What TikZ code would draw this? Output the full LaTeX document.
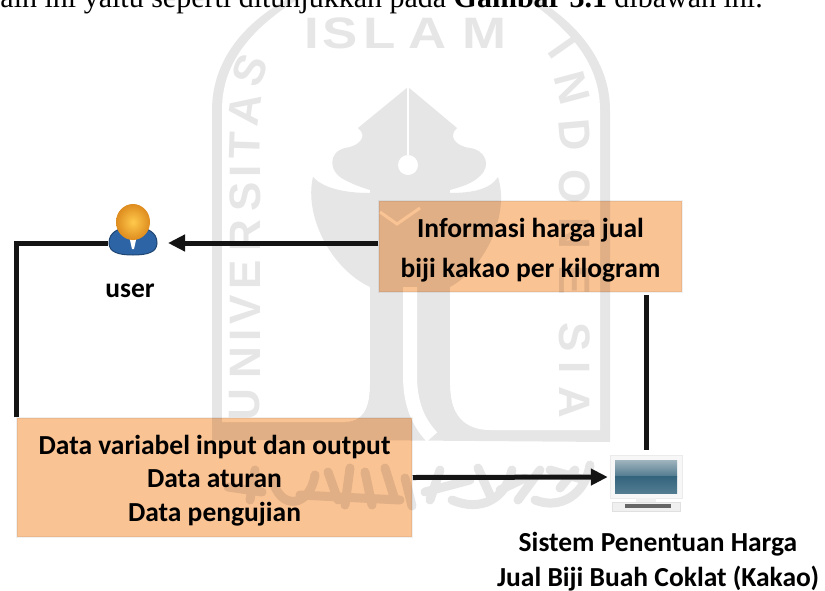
\documentclass[tikz,border=0pt]{standalone}
\usepackage{fontspec}
\setmainfont{Liberation Serif}
\newfontfamily\labelfont{Carlito}
\newfontfamily\markfont{Liberation Sans}
\usetikzlibrary{arrows.meta}
\definecolor{peach}{RGB}{250, 195, 148}
\definecolor{markgray}{RGB}{230, 230, 230}
\definecolor{suitblue}{RGB}{45, 100, 165}
\definecolor{headorange}{RGB}{222, 140, 30}
\definecolor{screendark}{RGB}{50, 100, 125}
\definecolor{screenlight}{RGB}{160, 180, 190}
\tikzset{
  infobox/.style={draw=black!6, line width=1.5pt, fill=peach, align=center, inner sep=0pt,
                  font=\labelfont\bfseries\fontsize{27.5}{33.5}\selectfont},
  caption/.style={align=center, inner sep=0pt, font=\labelfont\bfseries\fontsize{27.5}{35}\selectfont},
  flowline/.style={line width=5pt, color=black!92},
  flowarrow/.style={flowline, -{Triangle[length=17pt,width=16pt]}},
  markletter/.style={color=markgray, inner sep=0pt, font=\markfont\bfseries\fontsize{44}{44}\selectfont}
}
\begin{document}
\begin{tikzpicture}[x=1pt, y=-1pt]
            \useasboundingbox (0,0) rectangle (825,590);
            \clip (0,0) rectangle (825,590);
            % Watermark shield
            \fill[markgray] (295,-5) .. controls (245,20) and (212,60) .. (212,110) -- (212,440) -- (345,440) -- (610,442) -- (610,110) .. controls (610,60) and (575,20) .. (530,-5) -- cycle;
            \fill[white]    (305,-5) .. controls (255,25) and (222,60) .. (222,110) -- (222,422) -- (345,422) .. controls (362,422) and (370,410) .. (370,385) -- (370,280) -- (450,280) -- (450,385) .. controls (450,415) and (465,430) .. (490,430) -- (600,430) -- (600,110) .. controls (600,60) and (565,25) .. (520,-5) -- cycle;
            % Watermark letters
            \foreach \letter/\markx in {I/312, S/340, L/380, A/428, M/484}
              \node[markletter] at (\markx,33) {\scalebox{1.2}[1]{\letter}};
            \foreach \letter/\markx/\marky/\markangle in {
                U/245/405/90, N/245/363/90, I/245/335/90, V/245/310/90, E/245/275/90, R/245/236/90, S/245/197/90, I/245/171/90, T/245/146/88, A/245/110/82, S/250/70/68,
                I/562/48/-55, N/572/88/-75, D/575/135/-85, O/575/187/-90, N/575/233/-90, E/575/280/-90, S/575/337/-90, I/575/368/-90, A/575/402/-90}
              \node[markletter, rotate=\markangle] at (\markx,\marky) {\letter};
            % Watermark pen
            \fill[markgray] (408,87) -- (358,128) .. controls (368,136) and (360,146) .. (345,148) .. controls (328,152) and (328,172) .. (345,180) .. controls (360,188) and (372,190) .. (378,193) -- (440,193) .. controls (455,188) and (470,186) .. (480,176) .. controls (492,165) and (485,150) .. (470,148) .. controls (455,146) and (448,136) .. (457,128) -- cycle;
            \fill[markgray] (313,177) .. controls (304,215) and (330,268) .. (370,287) -- (370,193) .. controls (350,193) and (325,190) .. (313,177) -- cycle;
            \fill[markgray] (498,177) .. controls (510,215) and (485,268) .. (450,287) -- (450,193) .. controls (470,193) and (490,190) .. (498,177) -- cycle;
            \fill[markgray] (370,190) rectangle (450,400);
            \fill[markgray] (370,385) .. controls (370,410) and (362,422) .. (345,422) -- (345,435) -- (470,435) -- (470,430) .. controls (465,430) and (450,415) .. (450,385) -- cycle;
            \draw[white, line width=2pt] (408,87) -- (408,160);
            \fill[white] (408,165) circle (10);
            \draw[white, line width=14pt] (410,287) -- (410,375) .. controls (410,400) and (416,420) .. (432,437);
            \draw[white, line width=3pt] (380,212) -- (397,224) -- (420,208);
            % Watermark calligraphy
            \draw[markgray, line width=9pt, line cap=round] (228,487) -- (262,492) (255,470) -- (250,500) (272,478) .. controls (280,512) and (310,507) .. (315,475) (328,472) -- (338,500) (350,468) -- (345,505) (365,472) -- (372,505) (385,468) -- (395,500) (405,478) -- (412,506) (300,495) -- (400,500);
            \draw[markgray, line width=9pt, line cap=round] (425,492) -- (470,480) (440,470) -- (430,500) (452,500) .. controls (480,512) and (505,500) .. (512,470) (478,468) -- (490,495) (518,500) -- (540,470) (500,490) -- (525,478) (535,500) .. controls (560,510) and (585,495) .. (590,465) (550,470) -- (585,480) (560,488) -- (575,470);
            % Boxes
            \begin{scope}[blend mode=multiply]
            \node[infobox, minimum width=395pt, minimum height=119pt] (data) at (214.5,477.5) {\rule{0pt}{25pt}Data variabel input dan output\\Data aturan\\Data pengujian};
            \node[infobox, minimum width=303pt, minimum height=91pt, font=\labelfont\bfseries\fontsize{27.5}{40}\selectfont] (info) at (530.5,246.5) {\rule{0pt}{26pt}Informasi harga jual\\biji kakao per kilogram};
            \end{scope}
            % User
            \node[minimum width=50pt, minimum height=24pt, inner sep=0pt] (user) at (133,243) {};
            \filldraw[color=suitblue!70!black, fill=suitblue, line width=1pt] (109,243) .. controls (109,232) and (118,228) .. (133,226) .. controls (148,228) and (157,232) .. (157,243) .. controls (157,252) and (148,255) .. (133,255) .. controls (118,255) and (109,252) .. (109,243) -- cycle;
            \fill[white] (128,231) -- (138,231) -- (134,249) -- (132,249) -- cycle;
            \shade[inner color=yellow!40!orange!70!white, outer color=headorange] (133,222) ellipse (17 and 18);
            \node[caption] (userlabel) at (130,291) {user};
            % System
            \node[draw=black!8, fill=black!3, minimum width=72pt, minimum height=43pt, inner sep=0pt] (system) at (646,477) {};
            \shade[top color=screenlight, bottom color=screendark!70!screenlight] (615,460) rectangle (677,476);
            \shade[top color=screendark, bottom color=screendark!70!screenlight] (615,476) rectangle (677,493);
            \fill[black!6] (636,498) rectangle (656,503);
            \filldraw[color=black!12, fill=black!6] (612,502) rectangle (680,511);
            \fill[black!60] (625,504) rectangle (671,508);
            \node[caption] (systemlabel) at (658,562) {Sistem Penentuan Harga\\Jual Biji Buah Coklat (Kakao)};
            % Connectors
            \coordinate (usertip) at (168,243);
            \draw[flowarrow] (info.west |- usertip) -- (usertip);
            \draw[flowarrow, shorten >=2pt] (data.east) -- (system.west);
            \draw[flowline] (data.north west) |- (user.west);
            \draw[flowline, shorten <=2pt, shorten >=5pt] (system.north |- info.south) -- (system.north);
            % Text above
            \node[anchor=base east, inner sep=0pt, font=\fontsize{30}{30}\selectfont] (sentence) at (763,7) {ain ini yaitu seperti ditunjukkan pada \textbf{Gambar 3.1} dibawah ini.};
        \end{tikzpicture}
\end{document}
